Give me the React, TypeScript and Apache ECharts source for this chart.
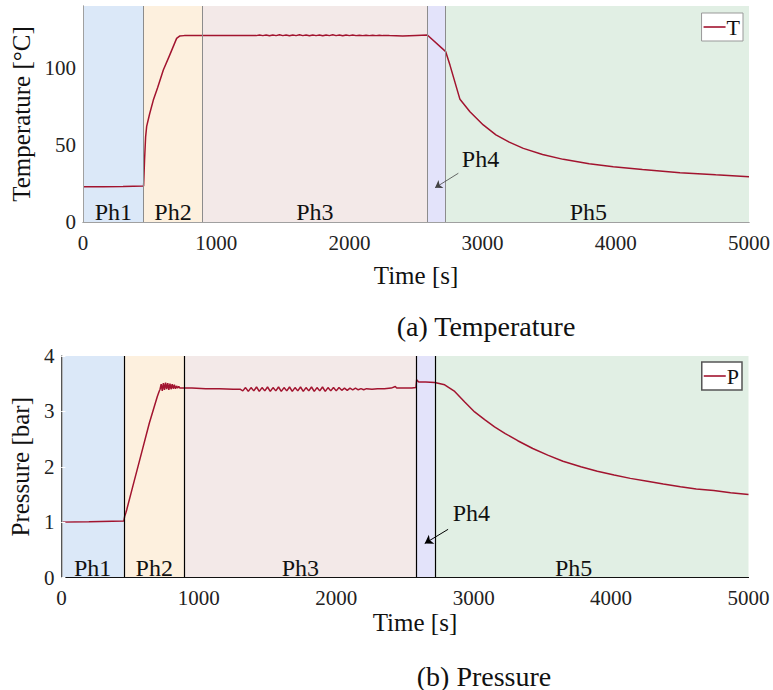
import React, { useEffect, useRef } from 'react';
import * as echarts from 'echarts';

const FONT = 'Liberation Serif';
const LINE_COLOR = '#a2142f';

const phaseNames = ['Ph1', 'Ph2', 'Ph3', 'Ph4', 'Ph5'];
const phaseColors = ['#dbe8f8', '#fdf0de', '#f3e9e8', '#e3e3fa', '#e1efe4'];
const tPhaseBounds = [0, 456, 896, 2585, 2723, 5000];
const pPhaseBounds = [0, 454, 897, 2582, 2717, 5000];

const xTickLabels = ['0', '1000', '2000', '3000', '4000', '5000'];

// Temperature [°C] vs time [s]
const tTime = [
  0, 150, 300, 455, 462, 470, 478, 500, 528, 560, 603, 650, 703, 725, 760, 850, 1000, 1150, 1300,
  1325, 1350, 1375, 1400, 1425, 1450, 1475, 1500, 1525, 1550, 1575, 1600, 1625, 1650, 1675, 1700,
  1725, 1750, 1775, 1800, 1825, 1850, 1875, 1900, 1925, 1950, 1975, 2000, 2025, 2050, 2075, 2100,
  2125, 2150, 2175, 2200, 2225, 2250, 2275, 2300,
  2400, 2500, 2585, 2723, 2755, 2830, 2905, 3005, 3100, 3200, 3306, 3450, 3606, 3800, 3981, 4200,
  4482, 4750, 5000,
];
const tTemp = [
  22.8, 22.9, 23.0, 23.4, 40, 55, 62, 70, 79, 87, 98.5, 108, 119, 120.5, 120.8, 120.8, 120.9, 120.8, 120.8,
  121.2, 120.8, 121.2, 120.7, 121.2, 120.8, 121.3, 120.8, 121.2, 120.7, 121.2, 120.8, 121.3, 120.8,
  121.2, 120.7, 121.2, 120.8, 121.2, 120.7, 121.2, 120.8, 121.3, 120.8, 121.2, 120.7, 121.2, 120.8,
  121.2, 120.8, 121.1, 120.8, 121.1, 120.8, 121.0, 120.8, 121.0, 120.8, 120.9, 120.8,
  120.5, 120.9, 121.2, 110.4, 101.7, 79.5, 71.5, 62.9, 56.5, 51.8, 47.7, 43.7, 40.6, 37.8, 35.8, 34.0,
  32.0, 30.6, 29.4,
];

// Pressure [bar] vs time [s]
const pTime = [
  0, 200, 454, 460, 469, 475, 520, 580, 640, 698, 711,
  718, 726, 734, 742, 750, 758, 766, 774, 782, 790, 798, 806, 814, 822, 830, 838, 846, 854, 862,
  880, 950, 1050, 1150, 1250, 1300,
  1320, 1340, 1360, 1380, 1400, 1420, 1440, 1460, 1480, 1500, 1520, 1540, 1560, 1580, 1600, 1620,
  1640, 1660, 1680, 1700, 1720, 1740, 1760, 1780, 1800, 1820, 1840, 1860, 1880, 1900, 1920, 1940,
  1960, 1980, 2000, 2020, 2040, 2060, 2080, 2100, 2120, 2140, 2160, 2180, 2200, 2220,
  2260, 2300, 2350, 2400, 2430, 2440, 2500, 2550, 2580, 2585, 2600, 2650,
  2717, 2789, 2862, 2935, 3007, 3080, 3152, 3230, 3321, 3430, 3539, 3650, 3780, 3900, 4022, 4140,
  4264, 4380, 4505, 4620, 4747, 4870, 5000,
];
const pPres = [
  1.0, 1.005, 1.02, 1.1, 1.17, 1.22, 1.65, 2.22, 2.79, 3.27, 3.36,
  3.40, 3.49, 3.37, 3.51, 3.39, 3.52, 3.40, 3.51, 3.39, 3.50, 3.40, 3.49, 3.41, 3.48, 3.41, 3.46, 3.42, 3.45, 3.42,
  3.42, 3.42, 3.41, 3.41, 3.40, 3.40,
  3.37, 3.43, 3.36, 3.43, 3.37, 3.44, 3.36, 3.43, 3.37, 3.44, 3.36, 3.43, 3.37, 3.44, 3.36, 3.43,
  3.37, 3.44, 3.36, 3.43, 3.37, 3.44, 3.36, 3.43, 3.37, 3.44, 3.36, 3.43, 3.37, 3.44, 3.36, 3.43,
  3.37, 3.43, 3.37, 3.43, 3.38, 3.42, 3.38, 3.42, 3.39, 3.42, 3.39, 3.41, 3.39, 3.41,
  3.40, 3.41, 3.41, 3.42, 3.45, 3.42, 3.42, 3.42, 3.43, 3.57, 3.53, 3.53,
  3.52, 3.48, 3.36, 3.17, 2.99, 2.85, 2.72, 2.60, 2.47, 2.33, 2.21, 2.10, 2.00, 1.92, 1.85, 1.79,
  1.74, 1.69, 1.64, 1.60, 1.57, 1.53, 1.50,
];

// Ph4 annotation: label position and arrow [from, to] in data coordinates
const tPh4Label = [2984, 40.8];
const tPh4Arrow = [[2818, 31.6], [2643, 22.2]];
const pPh4Label = [2983, 1.16];
const pPh4Arrow = [[2814, 0.87], [2644, 0.615]];

const phaseAreas = (bounds: number[], ph5Offset: number) =>
  phaseNames.map((name, i) => [
    {
      name,
      xAxis: bounds[i],
      itemStyle: { color: phaseColors[i] },
      label: {
        show: name !== 'Ph4',
        position: 'insideBottom',
        distance: 0,
        offset: name === 'Ph5' ? [ph5Offset, 2] : [0, 2],
        fontFamily: FONT,
        fontSize: 24,
        color: '#111',
      },
    },
    { xAxis: bounds[i + 1] },
  ]);

export default function App() {
  const ref = useRef<HTMLDivElement>(null);
  useEffect(() => {
    document.body.style.margin = '0';
    const chart = echarts.init(ref.current!, undefined, { renderer: 'svg' });
    const tickLabel = {
      fontFamily: FONT,
      fontSize: 21,
      color: '#222',
    };
    const nameStyle = { fontFamily: FONT, fontSize: 25, color: '#111' };
    const xMain = (gridIndex: number, lineColor: string, nameGap: number, namePad: number) => ({
      type: 'value',
      gridIndex,
      min: 0,
      max: 5000,
      interval: 1000,
      z: 10,
      axisLine: { show: true, lineStyle: { color: lineColor, width: 1 } },
      axisTick: { show: false },
      splitLine: { show: false },
      axisLabel: {
        ...tickLabel,
        margin: 10,
        formatter: (v: number) => xTickLabels[Math.round(v / 1000)] ?? '',
      },
      name: 'Time [s]',
      nameLocation: 'middle',
      nameGap,
      nameTextStyle: { ...nameStyle, padding: [0, 0, 0, namePad] },
    });
    const frameAxisX = (gridIndex: number, lineColor: string) => ({
      type: 'value',
      gridIndex,
      position: 'top',
      min: 0,
      max: 5000,
      z: 10,
      axisLine: { show: true, lineStyle: { color: lineColor, width: 1 } },
      axisTick: { show: false },
      axisLabel: { show: false },
      splitLine: { show: false },
    });
    const frameAxisY = (gridIndex: number, lineColor: string, max: number, interval: number, tickColor: string) => ({
      type: 'value',
      gridIndex,
      position: 'right',
      min: 0,
      max,
      interval,
      z: 10,
      axisLine: { show: true, lineStyle: { color: lineColor, width: 1 } },
      axisTick: { show: true, inside: true, length: 4, lineStyle: { color: tickColor } },
      axisLabel: { show: false },
      splitLine: { show: false },
    });
    const legendBase = {
      orient: 'vertical',
      padding: [3, 3, 3, 2],
      itemWidth: 22,
      itemHeight: 1.6,
      icon: 'rect',
      backgroundColor: '#ffffff',
      textStyle: { fontFamily: FONT, fontSize: 22, color: '#111', padding: [0, 0, 0, -4] },
    };

    chart.setOption({
      animation: false,
      backgroundColor: '#ffffff',
      textStyle: { fontFamily: FONT },
      grid: [
        { left: 83, right: 24, top: 6, height: 216 },
        { left: 59, right: 24.5, top: 356, height: 221.5 },
      ],
      xAxis: [
        xMain(0, '#a0a0a0', 41, 0),
        frameAxisX(0, '#a0a0a0'),
        xMain(1, '#333333', 32, 20),
        frameAxisX(1, '#111111'),
      ],
      yAxis: [
        {
          type: 'value',
          gridIndex: 0,
          min: 0,
          max: 140,
          interval: 50,
          z: 10,
          axisLine: { show: true, lineStyle: { color: '#a0a0a0', width: 1 } },
          axisTick: { show: false },
          splitLine: { show: false },
          axisLabel: { ...tickLabel, margin: 7, showMaxLabel: false },
          name: 'Temperature [°C]',
          nameLocation: 'middle',
          nameGap: 45,
          nameTextStyle: nameStyle,
        },
        frameAxisY(0, '#a0a0a0', 140, 50, 'rgba(255,255,255,0)'),
        {
          type: 'value',
          gridIndex: 1,
          min: 0,
          max: 4,
          interval: 1,
          z: 10,
          axisLine: { show: true, lineStyle: { color: '#aaaaaa', width: 1.5 } },
          axisTick: { show: true, inside: true, length: 4, lineStyle: { color: '#ffffff' } },
          splitLine: { show: false },
          axisLabel: { ...tickLabel, margin: 7 },
          name: 'Pressure [bar]',
          nameLocation: 'middle',
          nameGap: 24,
          nameTextStyle: nameStyle,
        },
        frameAxisY(1, '#555555', 4, 1, '#ffffff'),
      ],
      legend: [
        {
          ...legendBase,
          data: ['T'],
          right: 30,
          top: 13,
          borderColor: '#999999',
          borderWidth: 1,
        },
        {
          ...legendBase,
          data: ['P'],
          right: 31,
          top: 362,
          borderColor: '#555555',
          borderWidth: 1.5,
        },
      ],
      series: [
        {
          type: 'line',
          xAxisIndex: 0,
          yAxisIndex: 0,
          data: [],
          silent: true,
          markArea: { silent: true, data: phaseAreas(tPhaseBounds, -9) },
          markLine: {
            silent: true,
            symbol: ['none', 'none'],
            label: { show: false },
            lineStyle: { color: '#8c8c8c', width: 1, type: 'solid' },
            data: tPhaseBounds.slice(1, 5).map((b) => ({ xAxis: b })),
          },
        },
        {
          name: 'T',
          type: 'line',
          xAxisIndex: 0,
          yAxisIndex: 0,
          showSymbol: false,
          symbol: 'none',
          lineStyle: { color: LINE_COLOR, width: 1.5 },
          itemStyle: { color: LINE_COLOR },
          data: tTime.map((t, i) => [t, tTemp[i]]),
        },
        {
          type: 'line',
          xAxisIndex: 0,
          yAxisIndex: 0,
          data: [],
          silent: true,
          markLine: {
            silent: true,
            symbol: ['none', 'arrow'],
            symbolSize: 7,
            label: { show: false },
            lineStyle: { color: '#444444', width: 0.8, type: 'solid' },
            data: [[{ coord: tPh4Arrow[0] }, { coord: tPh4Arrow[1] }]],
          },
          markPoint: {
            silent: true,
            symbol: 'rect',
            symbolSize: 1,
            itemStyle: { color: 'rgba(0,0,0,0)' },
            label: { show: true, position: 'inside', formatter: 'Ph4', fontFamily: FONT, fontSize: 24, color: '#111' },
            data: [{ coord: tPh4Label }],
          },
        },
        {
          type: 'line',
          xAxisIndex: 2,
          yAxisIndex: 2,
          data: [],
          silent: true,
          markArea: { silent: true, data: phaseAreas(pPhaseBounds, -18) },
          markLine: {
            silent: true,
            symbol: ['none', 'none'],
            label: { show: false },
            lineStyle: { color: '#000000', width: 1.2, type: 'solid' },
            data: pPhaseBounds.slice(1, 5).map((b) => ({ xAxis: b })),
          },
        },
        {
          name: 'P',
          type: 'line',
          xAxisIndex: 2,
          yAxisIndex: 2,
          showSymbol: false,
          symbol: 'none',
          lineStyle: { color: LINE_COLOR, width: 1.5 },
          itemStyle: { color: LINE_COLOR },
          data: pTime.map((t, i) => [t, pPres[i]]),
        },
        {
          type: 'line',
          xAxisIndex: 2,
          yAxisIndex: 2,
          data: [],
          silent: true,
          markLine: {
            silent: true,
            symbol: ['none', 'arrow'],
            symbolSize: 8,
            label: { show: false },
            lineStyle: { color: '#000000', width: 1, type: 'solid' },
            data: [[{ coord: pPh4Arrow[0] }, { coord: pPh4Arrow[1] }]],
          },
          markPoint: {
            silent: true,
            symbol: 'rect',
            symbolSize: 1,
            itemStyle: { color: 'rgba(0,0,0,0)' },
            label: { show: true, position: 'inside', formatter: 'Ph4', fontFamily: FONT, fontSize: 24, color: '#111' },
            data: [{ coord: pPh4Label }],
          },
        },
      ],
      graphic: [
        {
          type: 'text',
          x: 486,
          y: 326,
          style: {
            text: '(a) Temperature',
            fontFamily: FONT,
            fontSize: 28,
            fill: '#111',
            align: 'center',
            verticalAlign: 'middle',
          },
        },
        {
          type: 'text',
          x: 484,
          y: 676,
          style: {
            text: '(b) Pressure',
            fontFamily: FONT,
            fontSize: 28,
            fill: '#111',
            align: 'center',
            verticalAlign: 'middle',
          },
        },
      ],
    });
    return () => chart.dispose();
  }, []);
  return <div ref={ref} style={{ width: 773, height: 690 }} />;
}
